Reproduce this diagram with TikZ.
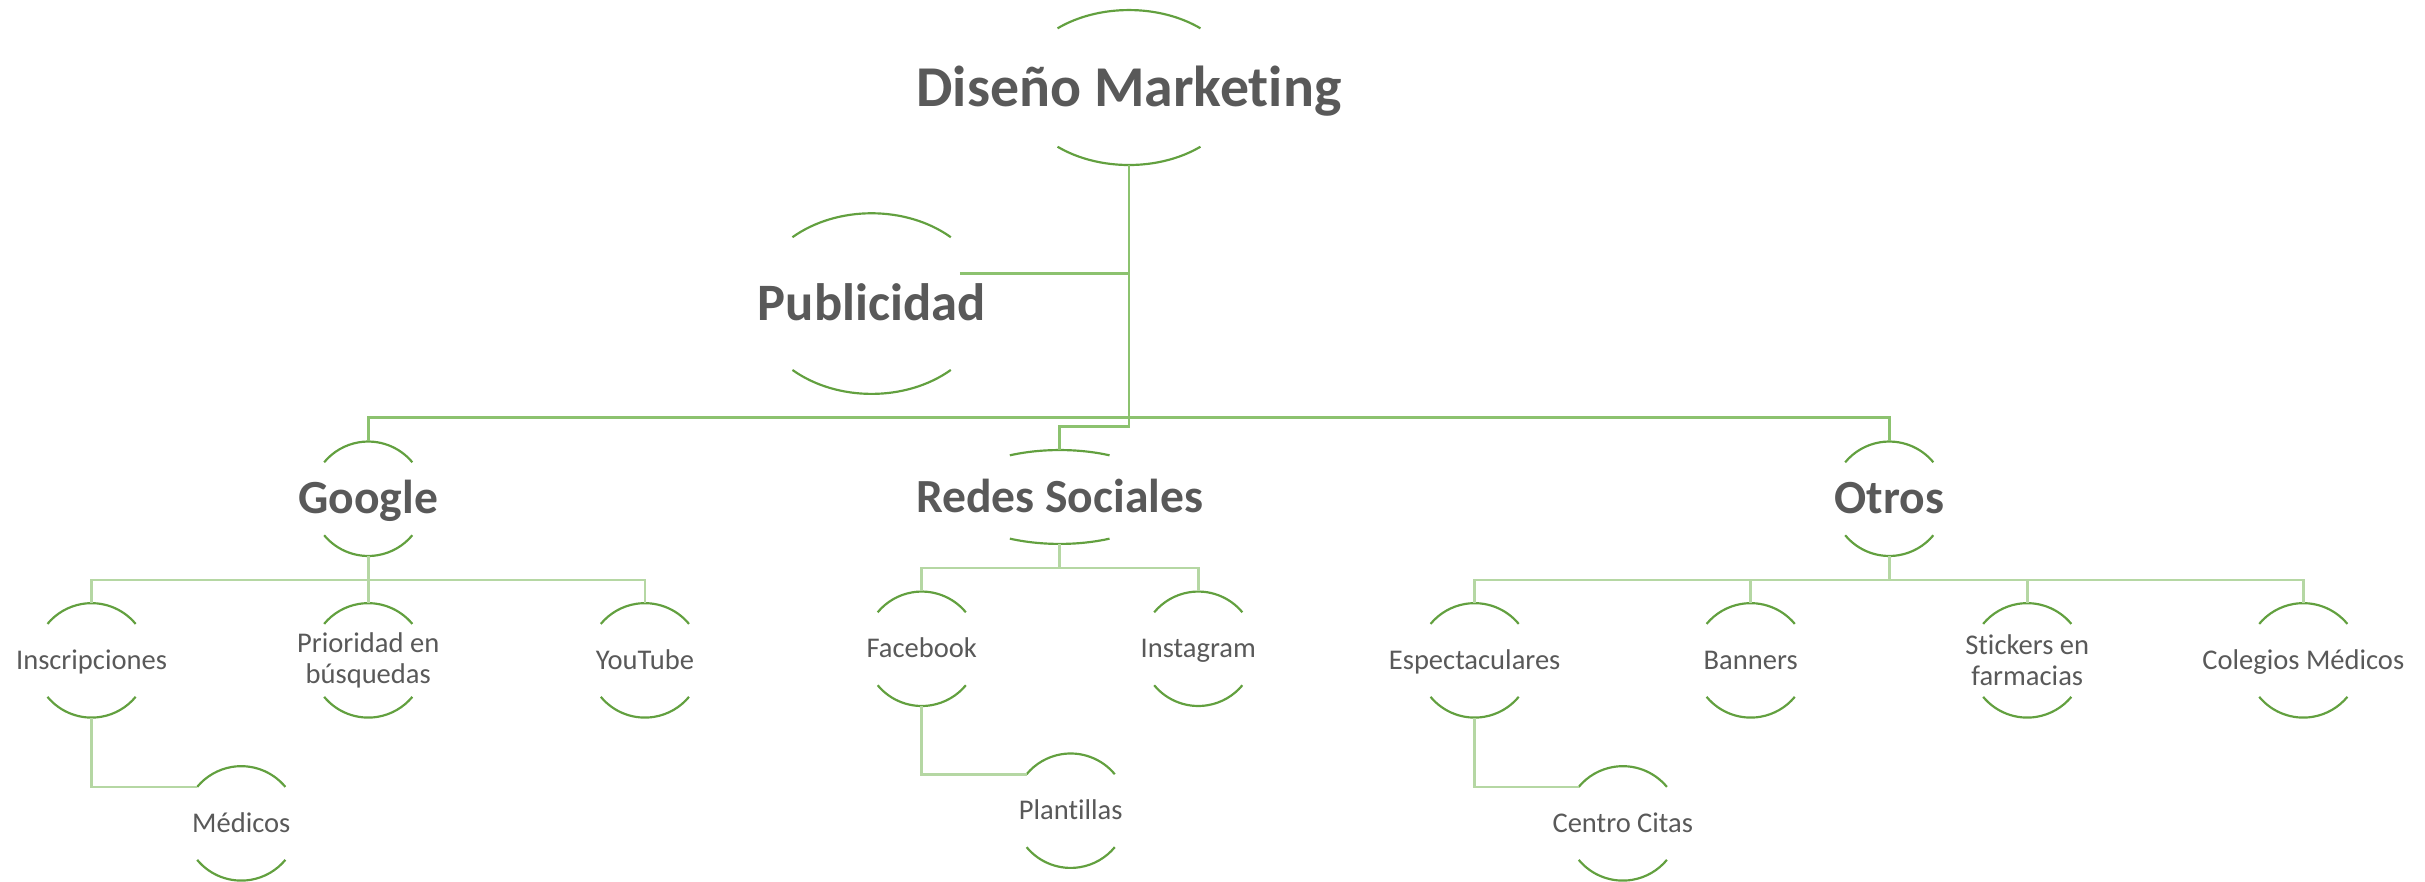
\documentclass[tikz,border=0pt]{standalone}
\usepackage{fontspec}
\setmainfont{Carlito}[Ligatures=NoCommon]
\usepackage{tikz}
\definecolor{arcgreen}{HTML}{62A03F}
\definecolor{linkgreen}{HTML}{8CC26F}
\definecolor{palegreen}{HTML}{B5D7A3}
\definecolor{txtgray}{HTML}{595959}

\tikzset{
  ringline/.style={arcgreen, line width=1.6pt},
  mainlink/.style={linkgreen, line width=2.2pt},
  sublink/.style={palegreen, line width=2pt},
  basebox/.style={inner sep=0pt, text=txtgray, align=center},
  rootbox/.style={basebox, minimum height=4.008cm, text height=34.85pt, text depth=7.65pt,
    font=\bfseries\fontsize{42.5}{46}\selectfont},
  pubbox/.style={basebox, minimum height=4.676cm, text height=31.7pt, text depth=7pt,
    font=\bfseries\fontsize{38.7}{42}\selectfont},
  catbox/.style={basebox, minimum height=2.96cm, text height=28.7pt, text depth=6.3pt,
    font=\bfseries\fontsize{35}{38}\selectfont},
  redbox/.style={catbox, minimum height=2.428cm},
  twobox/.style={basebox, minimum height=2.96cm, font=\fontsize{21}{23}\selectfont},
  leafbox/.style={twobox, text height=17.2pt, text depth=3.8pt},
}

% top and bottom arcs round a node: name, x radius, y radius, angle
\newcommand{\ringarcs}[4]{%
  \draw[ringline] (#1.center) ++({#2*cos(#4)},{#3*sin(#4)}) coordinate (#1-tr)
    arc[start angle=#4, end angle={180-#4}, x radius={#2*0.04cm}, y radius={#3*0.04cm}] coordinate (#1-tl);
  \draw[ringline] (#1.center) ++({-#2*cos(#4)},{-#3*sin(#4)})
    arc[start angle={180+#4}, end angle={360-#4}, x radius={#2*0.04cm}, y radius={#3*0.04cm}];
}

\begin{document}
\begin{tikzpicture}[x=0.04cm, y=0.04cm]
\useasboundingbox (0,0) rectangle (1568,-570.3);
% upper levels
\node[rootbox] (root) at (730,-56.6) {Diseño Marketing};
\node[pubbox] (pub) at (563.6,-196.3) {Publicidad};
\node[catbox] (google) at (238.1,-322.5) {Google};
\node[redbox] (redes) at (685.2,-321.35) {Redes Sociales};
\node[catbox] (otros) at (1221.6,-322.5) {Otros};
% second level
\node[leafbox] (insc) at (59.2,-427) {Inscripciones};
\node[twobox] (prio) at (238.1,-427) {Prioridad en\\búsquedas};
\node[leafbox] (yt) at (417,-427) {YouTube};
\node[leafbox] (fb) at (596,-419.5) {Facebook};
\node[leafbox] (ig) at (774.8,-419.5) {Instagram};
\node[leafbox] (espec) at (953.5,-427) {Espectaculares};
\node[leafbox] (banners) at (1132,-427) {Banners};
\node[twobox] (stick) at (1310.8,-427) {Stickers en\\farmacias};
\node[leafbox] (coleg) at (1489.3,-427) {Colegios Médicos};
% third level
\node[leafbox] (medicos) at (156,-532.4) {Médicos};
\node[leafbox] (plant) at (692.3,-524.2) {Plantillas};
\node[leafbox] (citas) at (1049.3,-532.4) {Centro Citas};

\ringarcs{root}{71.6}{50.1}{49.8}
\ringarcs{pub}{75.5}{58.4}{47.3}
\ringarcs{redes}{70}{30.35}{62.6}
\foreach \n in {google,otros,insc,prio,yt,fb,ig,espec,banners,stick,coleg,medicos,plant,citas}
  \ringarcs{\n}{37}{37}{39.6};

% connectors
\coordinate (pubend) at (620.6,-176.7);
\draw[mainlink] (pubend) -- (pubend -| root.south);
\foreach \c in {google,otros}
  \draw[mainlink] (root.south) -- ++(0,-163.1) -| (\c.north);
\draw[mainlink] (root.south) -- ++(0,-169.2) -| (redes.north);
\foreach \c in {insc,prio,yt}
  \draw[sublink] (google.south) -- ++(0,-15.3) -| (\c.north);
\foreach \c in {fb,ig}
  \draw[sublink] (redes.south) -- ++(0,-15.4) -| (\c.north);
\foreach \c in {espec,banners,stick,coleg}
  \draw[sublink] (otros.south) -- ++(0,-15.3) -| (\c.north);
\draw[sublink] (insc.south) |- (medicos-tl);
\draw[sublink] (fb.south) |- (plant-tl);
\draw[sublink] (espec.south) |- (citas-tl);
\end{tikzpicture}
\end{document}
